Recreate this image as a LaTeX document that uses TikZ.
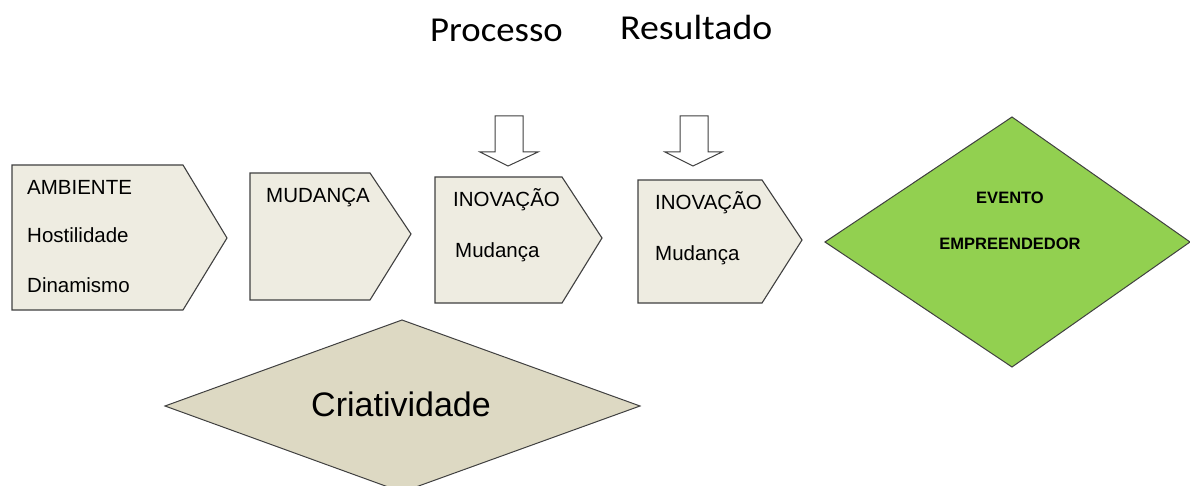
\documentclass[tikz,border=0pt]{standalone}
\usepackage{fontspec}
\setmainfont{Liberation Sans}
\newfontfamily\titlefont{Carlito}
\definecolor{boxfill}{HTML}{EEECE1}
\definecolor{boxline}{HTML}{404040}
\definecolor{tanfill}{HTML}{DDD9C3}
\definecolor{greenfill}{HTML}{92D050}
\tikzset{
  pent/.style={draw=boxline, fill=boxfill, line width=1.1pt, line join=miter},
  blockarrow/.style={draw=boxline, fill=white, line width=1pt},
  diam/.style={draw=boxline, line width=1pt},
  lbl/.style={anchor=base west, inner sep=0pt, font=\fontsize{20.5}{24}\selectfont},
  ttl/.style={anchor=base west, inner sep=0pt, font=\titlefont\fontsize{35}{40}\selectfont},
  evt/.style={anchor=base, inner sep=0pt, font=\bfseries\fontsize{16.5}{20}\selectfont},
}
\begin{document}
\begin{tikzpicture}[x=1pt,y=-1pt]
\useasboundingbox (0,0) rectangle (1190,486);
% titles
\node[ttl] (proc) at (430,42) {\scalebox{1.05}[1]{Processo}};
\node[ttl] (res) at (620,40) {\scalebox{1.08}[1]{Resultado}};
% block arrows
\draw[blockarrow] (495,116) -- (523,116) -- (523,152) -- (538,152) -- (508,166) -- (480,152) -- (495,152) -- cycle;
\draw[blockarrow] (680,116) -- (708,116) -- (708,152) -- (722,152) -- (693,166) -- (665,152) -- (680,152) -- cycle;
% pentagons
\draw[pent] (12,165) -- (183,165) -- (227,238) -- (183,310) -- (12,310) -- cycle;
\draw[pent] (250,173) -- (370,173) -- (411,234) -- (370,300) -- (250,300) -- cycle;
\draw[pent] (435,177) -- (562,177) -- (602,238) -- (562,303) -- (435,303) -- cycle;
\draw[pent] (638,180) -- (762,180) -- (802,240) -- (762,303) -- (638,303) -- cycle;
% texts in pentagons
\node[lbl] (amb) at (27,195) {AMBIENTE};
\node[lbl] (host) at (27,243) {Hostilidade};
\node[lbl] (din) at (27,292) {Dinamismo};
\node[lbl] (mud) at (266,203) {MUDANÇA};
\node[lbl] (ino1) at (453,207) {INOVAÇÃO};
\node[lbl] (mud1) at (455,257) {Mudança};
\node[lbl] (ino2) at (655,210) {INOVAÇÃO};
\node[lbl] (mud2) at (655,260) {Mudança};
% green diamond
\draw[diam, fill=greenfill] (1012,117) -- (1190,242) -- (1012,367) -- (825,242) -- cycle;
\node[evt] (ev) at (1010,204) {EVENTO};
\node[evt] (emp) at (1010,250) {EMPREENDEDOR};
% criatividade diamond
\draw[diam, fill=tanfill] (402,320) -- (640,406) -- (402,492) -- (165,406) -- cycle;
\node[anchor=base, inner sep=0pt, font=\fontsize{34}{40}\selectfont] (cri) at (401,416) {Criatividade};
\end{tikzpicture}
\end{document}
